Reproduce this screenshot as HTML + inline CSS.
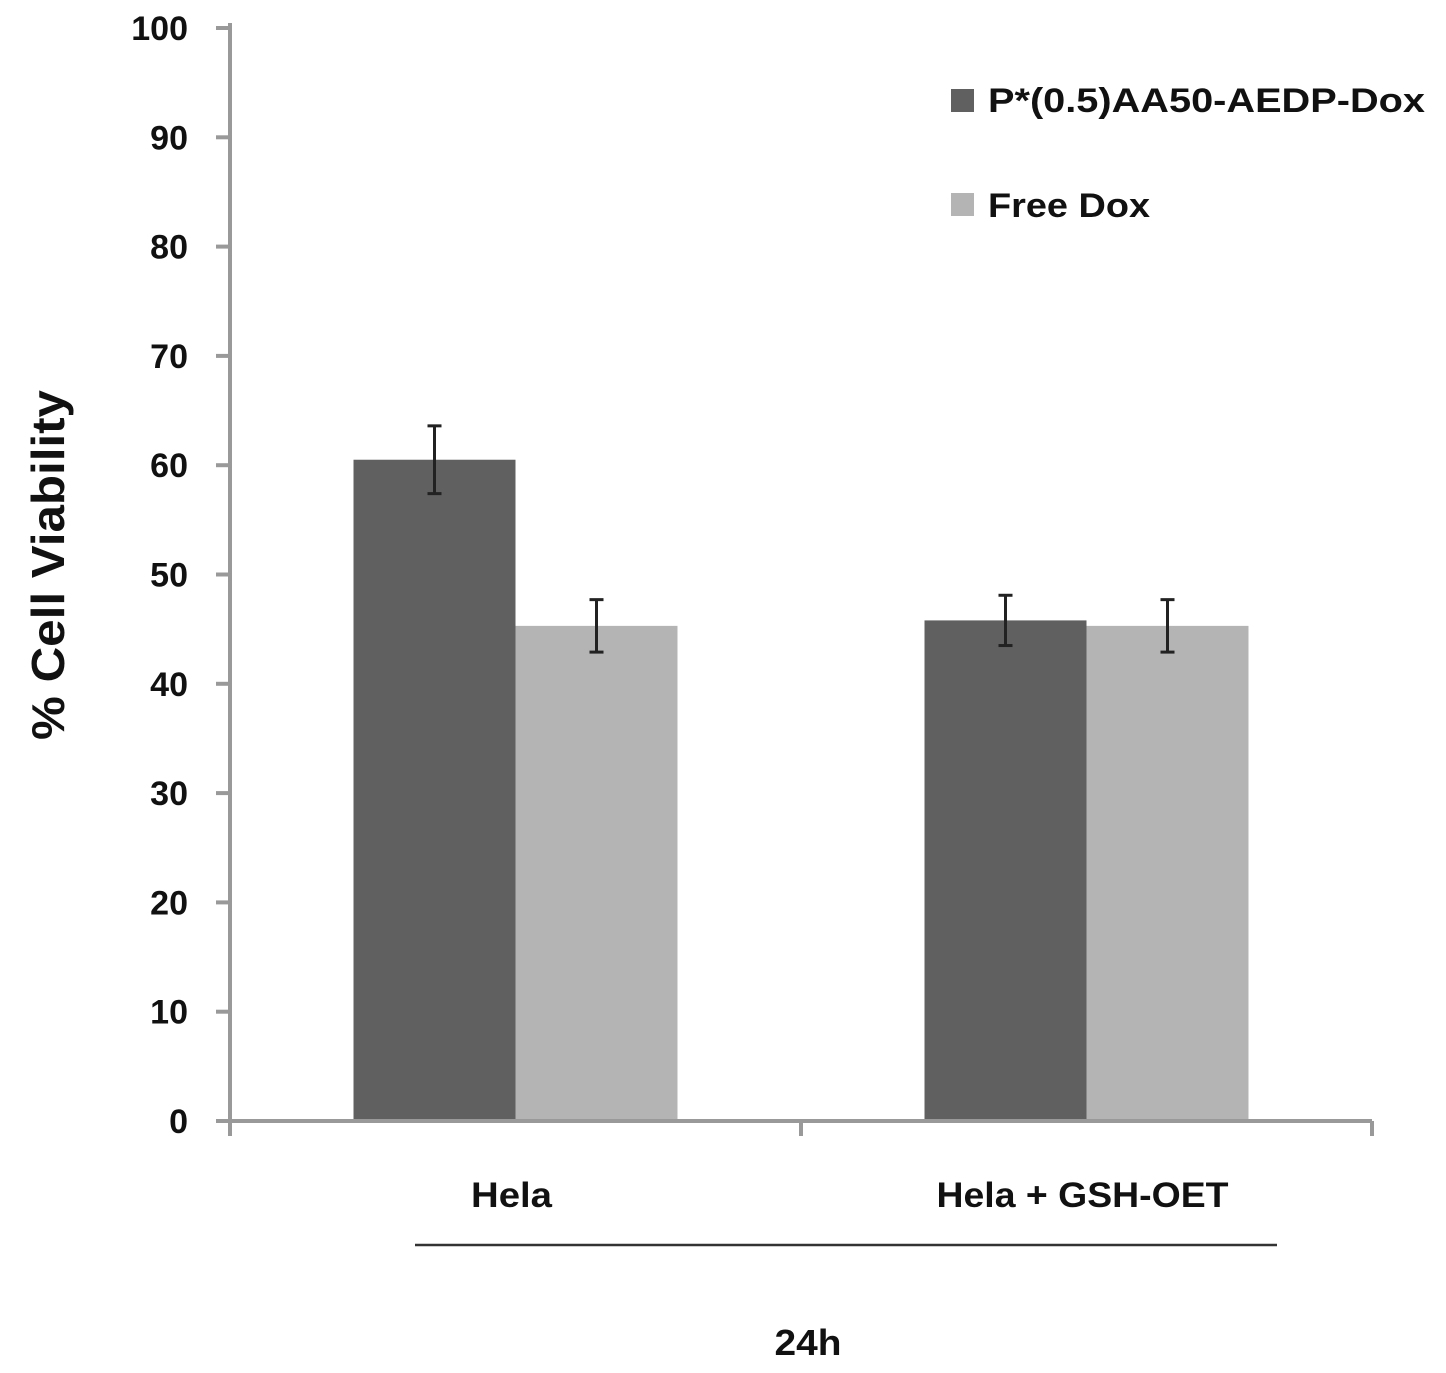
<!DOCTYPE html>
<html><head><meta charset="utf-8"><style>
html,body{margin:0;padding:0;background:#fff;}
svg{display:block;font-family:"Liberation Sans",sans-serif;font-weight:bold;}
</style></head><body>
<svg id="chart" width="1446" height="1373" viewBox="0 0 1446 1373">
</svg>
<script>
const categories = ["Hela", "Hela + GSH-OET"];
const categoryLabelWidths = [81, 292];
const seriesNames = ["P*(0.5)AA50-AEDP-Dox", "Free Dox"];
const conjugateValues = [60.5, 45.8];
const freeDoxValues = [45.3, 45.3];
const conjugateErrors = [3.1, 2.3];
const freeDoxErrors = [2.4, 2.4];
const yTicks = [0,10,20,30,40,50,60,70,80,90,100];

const svg = document.getElementById('chart');
const NS = 'http://www.w3.org/2000/svg';
const x0 = 230, x1 = 1372, yBase = 1121, yTop = 28;
const yScale = v => yBase - v / 100 * (yBase - yTop);
const groupW = (x1 - x0) / categories.length;
const xCenter = i => x0 + groupW * (i + 0.5);
const barW = 162;
function mk(tag, attrs, parent){ const e=document.createElementNS(NS,tag); for(const k in attrs) e.setAttribute(k,attrs[k]); (parent||svg).appendChild(e); return e; }

yTicks.forEach(t=>{
  const y=yScale(t);
  const tk=mk('line',{x1:216,x2:x0,y1:y,y2:y,stroke:'#999','stroke-width':4});
  
  
  const lb=mk('text',{x:188,y:y+12,'text-anchor':'end','font-size':34,fill:'#111'});
  lb.textContent=t;
  
  
});

const series=[{v:conjugateValues,e:conjugateErrors,c:'#606060',off:-1},{v:freeDoxValues,e:freeDoxErrors,c:'#b4b4b4',off:0}];
series.forEach((s,si)=>{
  categories.forEach((cat,i)=>{
    const bx=xCenter(i)+s.off*barW;
    const r=mk('rect',{x:bx,y:yScale(s.v[i]),width:barW,height:yBase-yScale(s.v[i]),fill:s.c});
    
    
    const cx=bx+barW/2, yh=yScale(s.v[i]+s.e[i]), yl=yScale(s.v[i]-s.e[i]);
    const g=mk('g',{stroke:'#222','stroke-width':3});
    
    
    mk('line',{x1:cx,x2:cx,y1:yh,y2:yl},g);
    mk('line',{x1:cx-7,x2:cx+7,y1:yh,y2:yh},g);
    mk('line',{x1:cx-7,x2:cx+7,y1:yl,y2:yl},g);
  });
});

const ya=mk('line',{x1:x0,x2:x0,y1:yTop-5,y2:1136,stroke:'#999','stroke-width':4});


const xa=mk('line',{x1:x0,x2:x1,y1:yBase,y2:yBase,stroke:'#999','stroke-width':4});


for(let i=1;i<=categories.length;i++){
  const t=mk('line',{x1:x0+groupW*i,x2:x0+groupW*i,y1:yBase,y2:1136,stroke:'#999','stroke-width':4});
  
  
}
categories.forEach((c,i)=>{
  const t=mk('text',{x:xCenter(i)-4,y:1207,'text-anchor':'middle','font-size':35,fill:'#111',textLength:categoryLabelWidths[i],lengthAdjust:'spacingAndGlyphs'});
  t.textContent=c;
  
  
});
</script>
<svg style="position:absolute;left:0;top:0" width="1446" height="1373">
<line x1="415" x2="1277" y1="1245" y2="1245" stroke="#333" stroke-width="2.5"/>
<text x="808" y="1355" text-anchor="middle" font-size="36" fill="#111" font-family="Liberation Sans, sans-serif" font-weight="bold" textLength="67" lengthAdjust="spacingAndGlyphs">24h</text>
<text transform="translate(64,565) rotate(-90)" text-anchor="middle" font-size="46" fill="#111" font-family="Liberation Sans, sans-serif" font-weight="bold" textLength="350" lengthAdjust="spacingAndGlyphs">% Cell Viability</text>
<g font-family="Liberation Sans, sans-serif" font-weight="bold" font-size="34" fill="#111">
<rect x="951" y="89" width="23" height="23" fill="#606060"/>
<text x="988" y="112" textLength="437" lengthAdjust="spacingAndGlyphs">P*(0.5)AA50-AEDP-Dox</text>
<rect x="951" y="193" width="23" height="23" fill="#b4b4b4"/>
<text x="988" y="217" textLength="162" lengthAdjust="spacingAndGlyphs">Free Dox</text>
</g>
</svg>
</body></html>
